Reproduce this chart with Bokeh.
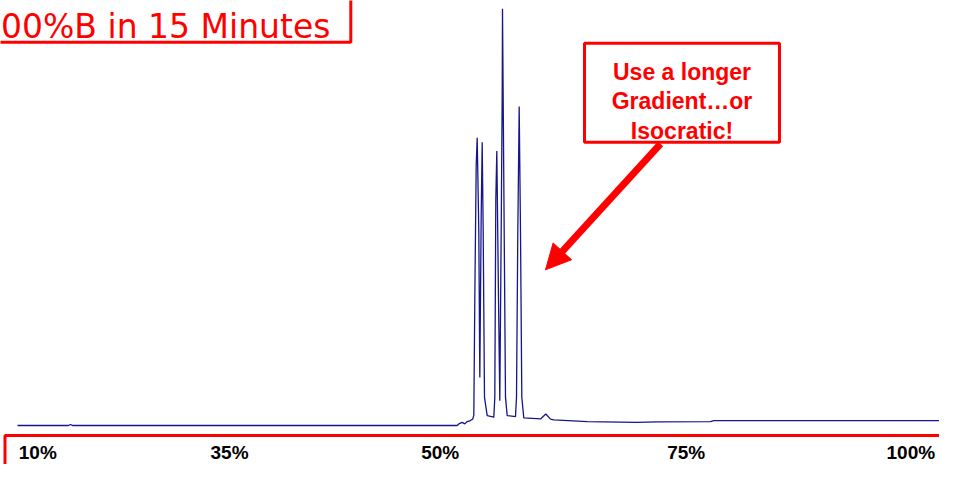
from bokeh.plotting import figure
from bokeh.models import Range1d, BoxAnnotation, Label, Arrow, NormalHead
from bokeh.embed import file_html
from bokeh.resources import INLINE

# ---- data ----
time_min = [0.000, 0.816, 0.848, 0.880, 7.035, 7.061, 7.115, 7.157, 7.195, 7.248,
            7.285, 7.301, 7.317, 7.339, 7.355, 7.381, 7.397, 7.419, 7.435, 7.451,
            7.472, 7.515, 7.621, 7.637, 7.653, 7.669, 7.696, 7.717, 7.739, 7.755,
            7.760, 7.771, 7.787, 7.808, 7.835, 7.968, 7.984, 8.005, 8.027, 8.048,
            8.069, 8.101, 8.368, 8.453, 8.528, 8.581, 9.115, 9.915, 10.235, 11.088,
            11.141, 15.008]
response_mau = [0.0, 0.0, 0.5, 0.0, 0.0, 0.8, 1.6, 0.8, 2.0, 2.5,
                3.3, 5.2, 64.2, 130.8, 145.0, 97.7, 24.2, 105.8, 142.8, 97.7,
                14.2, 5.0, 4.2, 14.2, 114.2, 138.3, 64.2, 12.5, 97.7, 165.8,
                210.0, 164.2, 97.7, 14.2, 5.0, 4.5, 14.2, 97.7, 160.8, 97.7,
                14.2, 3.8, 3.3, 5.8, 3.2, 2.8, 2.0, 1.6, 1.8, 2.0,
                2.5, 2.5]
gradient_labels = ["10%", "35%", "50%", "75%", "100%"]
title_text = "00%B in 15 Minutes"
callout_lines = ["Use a longer", "Gradient\u2026or", "Isocratic!"]

# ---- layout (figure pixel -> data) ----
W, H = 939, 464
X0PX, PX_PER_MIN = 17.0, 62.5
Y0PX = 425.0
PX_PER_MAU = (Y0PX - 8.3) / 210.0


def px2x(px):
    return (px - X0PX) / PX_PER_MIN


def py2y(py):
    return (Y0PX - py) / PX_PER_MAU


RED = "#ff0000"

p = figure(width=W, height=H, output_backend="svg", toolbar_location=None,
           x_range=Range1d(px2x(0), px2x(W)),
           y_range=Range1d(py2y(H), py2y(0)),
           x_axis_location=None, y_axis_location=None, min_border=0,
           background_fill_color="white", border_fill_color="white")
p.grid.visible = False
p.outline_line_color = None

p.line(time_min, response_mau, line_color="#16168a", line_width=1.3)


def box(l, r, t, b):
    p.add_layout(BoxAnnotation(left=px2x(l), right=px2x(r), top=py2y(t), bottom=py2y(b),
                               fill_color="white", fill_alpha=1.0,
                               line_color=RED, line_alpha=1.0, line_width=3,
                               level="overlay"))


# title box (top-left, partly cut off)
box(-30, 350.3, -30, 41.7)
p.add_layout(Label(x=px2x(0.5), y=py2y(26), text=title_text, text_color=RED,
                   text_font="DejaVu Sans", text_font_size="33px",
                   text_baseline="alphabetic", text_align="left", level="overlay"))

# callout box
box(584, 779, 42.7, 141.7)
for i, line in enumerate(callout_lines):
    p.add_layout(Label(x=px2x(681.5), y=py2y(71.7 + 29.2 * i), text=line, text_color=RED,
                       text_font="Liberation Sans", text_font_style="bold",
                       text_font_size="23px", text_align="center",
                       text_baseline="alphabetic", level="overlay"))

# arrow
p.add_layout(Arrow(x_start=px2x(660), y_start=py2y(143.3), x_end=px2x(545), y_end=py2y(269.3),
                   line_color=RED, line_width=7,
                   end=NormalHead(size=25, fill_color=RED, line_color=RED, line_width=1),
                   level="overlay"))

# gradient label box
box(4.5, 1000, 435, 520)
label_left_px = [18.3, 210.0, 420.7, 666.7, 886.0]
for txt, lx in zip(gradient_labels, label_left_px):
    p.add_layout(Label(x=px2x(lx), y=py2y(452), text=txt, text_color="black",
                       text_font="Liberation Sans", text_font_style="bold",
                       text_font_size="19px", text_align="left",
                       text_baseline="alphabetic", level="overlay"))

open("out.html", "w").write(file_html(p, INLINE))
